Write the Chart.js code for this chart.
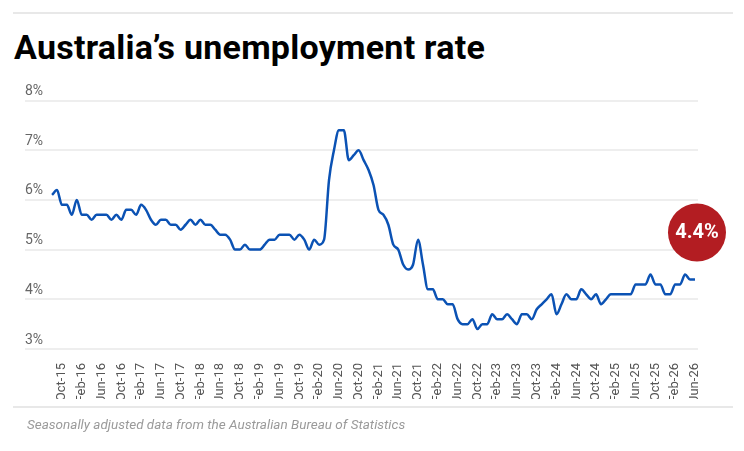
<!DOCTYPE html>
<html>
<head>
<meta charset="utf-8">
<script src="https://cdn.jsdelivr.net/npm/chart.js@4.4.0/dist/chart.umd.min.js"></script>
<style>
html,body{margin:0;padding:0;background:#fff;width:744px;height:451px;overflow:hidden;}
#wrap{position:relative;width:744px;height:451px;}
#topline{position:absolute;left:13px;top:12px;width:720px;height:2px;background:#e8e8e8;}
#title{position:absolute;left:14px;top:27px;font:700 34px Roboto, sans-serif;line-height:40px;color:#000;letter-spacing:0.25px;white-space:nowrap;}
#botline{position:absolute;left:13px;top:406px;width:720px;height:2px;background:#e8e8e8;}
#note{position:absolute;left:27px;top:416px;font:italic 400 13.5px Roboto, sans-serif;line-height:16px;color:#9a9a9a;white-space:nowrap;}
canvas{position:absolute;left:0;top:0;}
</style>
</head>
<body>
<div id="wrap">
  <div id="topline"></div>
  <div id="title">Australia’s unemployment rate</div>
  <canvas id="c" width="744" height="451"></canvas>
  <div id="botline"></div>
  <div id="note">Seasonally adjusted data from the Australian Bureau of Statistics</div>
</div>
<script>
// Monthly unemployment rate (%), starting Aug-15, ending Jun-26
const rate = [
  6.1, 6.2, 5.9, 5.9, 5.7, 6.0, 5.7, 5.7, 5.6, 5.7, 5.7, 5.7,
  5.6, 5.7, 5.6, 5.8, 5.8, 5.7, 5.9, 5.8, 5.6, 5.5, 5.6, 5.6,
  5.5, 5.5, 5.4, 5.5, 5.6, 5.5, 5.6, 5.5, 5.5, 5.4, 5.3, 5.3,
  5.2, 5.0, 5.0, 5.1, 5.0, 5.0, 5.0, 5.1, 5.2, 5.2, 5.3, 5.3,
  5.3, 5.2, 5.3, 5.2, 5.0, 5.2, 5.1, 5.2, 6.4, 7.0, 7.4, 7.4,
  6.8, 6.9, 7.0, 6.8, 6.6, 6.3, 5.8, 5.7, 5.5, 5.1, 5.0, 4.7,
  4.6, 4.7, 5.2, 4.7, 4.2, 4.2, 4.0, 4.0, 3.9, 3.9, 3.6, 3.5,
  3.5, 3.6, 3.4, 3.5, 3.5, 3.7, 3.6, 3.6, 3.7, 3.6, 3.5, 3.7,
  3.7, 3.6, 3.8, 3.9, 4.0, 4.1, 3.7, 3.9, 4.1, 4.0, 4.0, 4.2,
  4.1, 4.0, 4.1, 3.9, 4.0, 4.1, 4.1, 4.1, 4.1, 4.1, 4.3, 4.3,
  4.3, 4.5, 4.3, 4.3, 4.1, 4.1, 4.3, 4.3, 4.5, 4.4, 4.4
];
const firstMonth = 'Aug-15';
const tickLabels = [
  'Oct-15','Feb-16','Jun-16','Oct-16','Feb-17','Jun-17','Oct-17','Feb-18','Jun-18',
  'Oct-18','Feb-19','Jun-19','Oct-19','Feb-20','Jun-20','Oct-20','Feb-21','Jun-21',
  'Oct-21','Feb-22','Jun-22','Oct-22','Feb-23','Jun-23','Oct-23','Feb-24','Jun-24',
  'Oct-24','Feb-25','Jun-25','Oct-25','Feb-26','Jun-26'
];
const yTicks = [3, 4, 5, 6, 7, 8];

// Month category labels for each data point
const monthNames = ['Jan','Feb','Mar','Apr','May','Jun','Jul','Aug','Sep','Oct','Nov','Dec'];
const startM = monthNames.indexOf(firstMonth.slice(0,3));
const startY = 2000 + parseInt(firstMonth.slice(4), 10);
const months = rate.map((_, i) => {
  const m = (startM + i) % 12;
  const y = startY + Math.floor((startM + i) / 12);
  return monthNames[m] + '-' + String(y).slice(2);
});

const bubblePlugin = {
  id: 'lastBubble',
  afterDatasetsDraw(chart) {
    const meta = chart.getDatasetMeta(0);
    const pt = meta.data[meta.data.length - 1];
    const ctx = chart.ctx;
    const cx = pt.x + 2, cy = pt.y - 47;
    ctx.save();
    ctx.beginPath();
    ctx.arc(cx, cy, 29, 0, Math.PI * 2);
    ctx.fillStyle = '#b31d22';
    ctx.fill();
    ctx.fillStyle = '#ffffff';
    ctx.font = '700 20px Roboto, sans-serif';
    ctx.textAlign = 'center';
    ctx.textBaseline = 'middle';
    ctx.fillText(rate[rate.length - 1].toFixed(1) + '%', cx, cy + 1);
    ctx.restore();
  }
};

new Chart(document.getElementById('c'), {
  type: 'line',
  data: {
    datasets: [{
      data: rate.map((v, i) => ({ x: i, y: v })),
      borderColor: '#0b52b4',
      borderWidth: 2.5,
      pointRadius: 0,
      cubicInterpolationMode: 'monotone',
      fill: false
    }]
  },
  options: {
    responsive: false,
    animation: false,
    devicePixelRatio: 1,
    layout: { padding: { left: 25, right: 46, top: 100.5, bottom: 52 } },
    plugins: { legend: { display: false }, tooltip: { enabled: false } },
    scales: {
      x: {
        type: 'linear',
        min: -5.47,
        max: 130.61,
        grid: { display: false },
        border: { display: false },
        afterBuildTicks: s => { s.ticks = tickLabels.map(l => ({ value: months.indexOf(l) })); },
        afterFit: s => { s.height = 50; },
        ticks: {
          autoSkip: false,
          minRotation: 90,
          maxRotation: 90,
          padding: 6,
          color: '#555555',
          font: { family: 'Roboto', size: 13 },
          callback: v => months[v]
        }
      },
      y: {
        min: 3,
        max: 8,
        afterBuildTicks: s => { s.ticks = yTicks.map(v => ({ value: v })); },
        grid: { color: '#eeeeee', lineWidth: 2, drawTicks: false },
        border: { display: false },
        ticks: {
          mirror: true,
          padding: 0,
          labelOffset: -9,
          color: '#666666',
          font: { family: 'Roboto', size: 14 },
          callback: v => v + '%'
        }
      }
    }
  },
  plugins: [bubblePlugin]
});
</script>
</body>
</html>
